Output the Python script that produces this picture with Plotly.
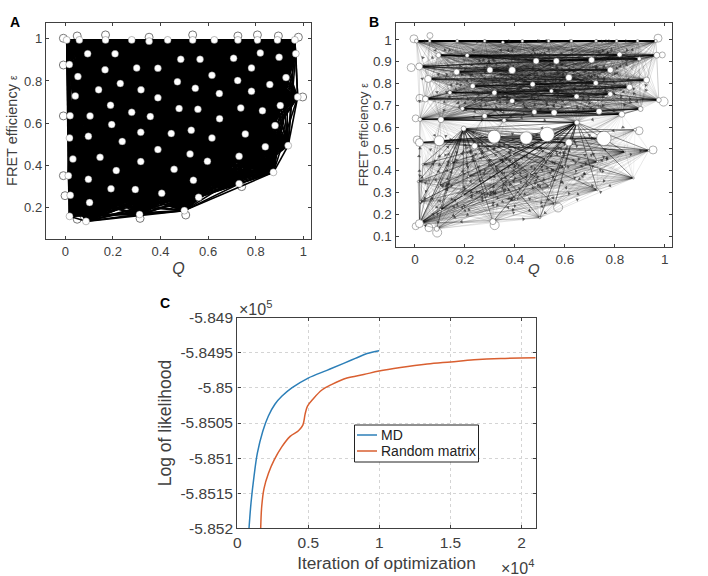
import math
from itertools import combinations
import plotly.graph_objects as go

# ---------- data ----------
node_q = [.006,.059,.169,.279,.352,.43,.535,.626,.725,.807,.891,.964,
          .094,.209,.485,.566,.707,.819,.898,.968,.017,.053,.167,.30,.389,.782,.616,.927,
          .471,.724,.231,.546,.318,.14,.782,.859,.647,.042,.389,.976,.19,.903,.478,.557,
          .737,.828,.279,.02,.104,.357,.648,.195,.881,.529,.317,.445,.756,.097,.018,.616,
          .239,.936,.84,.389,.524,.146,.73,.032,.317,.597,.457,.214,.874,.013,.097,.538,
          .73,.192,.294,.405,.021,.56,.102,.50,.312,.018,.087]
node_eps = [.995,.995,.995,.995,.989,.995,.995,.995,.995,.995,.995,.995,
            .93,.929,.903,.903,.908,.933,.913,.93,.878,.821,.853,.862,.861,.862,.827,.816,
            .796,.802,.788,.765,.758,.758,.751,.783,.74,.729,.72,.724,.685,.683,.669,.666,
            .672,.659,.651,.635,.634,.631,.621,.593,.588,.566,.556,.55,.548,.537,.529,.529,
            .513,.493,.487,.474,.453,.437,.442,.429,.417,.418,.38,.374,.366,.35,.333,.328,
            .312,.288,.284,.266,.257,.247,.222,.184,.166,.157,.133]
node_weight_b = [4,3,3,3,3,3,3,3,3,3,3,3,
                 5,4,6,6,6,5,4,6,7,7,6,6,7,6,6.5,6,
                 5,5,5,4,5,4,5,6,5,6,5,5,4,5,5,6,
                 6,6,5,4,6,4,5,5,3,14.5,13,12.5,14.5,10,8,7,
                 6,2,1.5,2,2,2,2,2,2,2,2,2,2,2,2,2,
                 2,2,2,2,2,2,2,2,6,8,5]

loop_q_a = [-.008,.05,.169,.352,.535,.725,.807,.895,.979,.997,-.008,-.008,-.008,-.001,.05,.314,.506,.741]
loop_eps_a = [1.003,1.014,1.019,1.008,1.019,1.014,1.019,1.014,1.008,.724,.876,.634,.35,.255,.143,.147,.163,.298]
loop_q_b = [-.004,.06,-.015,.02,.003,.009,.003,.056,.089,.319,.573,.953,.897,.995,.973,.99]
loop_eps_b = [1.005,1.02,.873,.732,.64,.541,.145,.138,.116,.15,.231,.495,.583,.717,1.008,.931]
loop_size_b = [8,6,8,8,7,8,7,8,9,9,9,8,8,9,8,6]

iterations_md = [824,965,1176,1412,1788,2188,2659,3129,3835,4988,6306,7482,8306,9129,9976]
loglik_md = [-585200,-585164,-585126,-585093,-585062,-585040,-585023,-585012,-585000,-584986,
             -584975,-584965,-584958,-584951,-584947]
iterations_rm = [1647,1718,1882,2188,2588,3129,3718,4306,4612,4776,4941,5365,5953,6659,7718,
                 8894,9976,11482,13365,15012,16659,18541,21000]
loglik_rm = [-585200,-585169,-585143,-585122,-585103,-585084,-585069,-585061,-585053,-585037,
             -585026,-585015,-585003,-584995,-584986,-584981,-584976,-584971,-584966,-584963,
             -584960,-584958,-584957]

y_ticks_c = [-584900,-584950,-585000,-585050,-585100,-585150,-585200]
y_labels_c = ["-5.849","-5.8495","-5.85","-5.8505","-5.851","-5.8515","-5.852"]
x_ticks_c = [0,5000,10000,15000,20000]
x_labels_c = ["0","0.5","1","1.5","2"]

# ---------- layout helpers ----------
W, H = 708, 576
FONT = "Liberation Sans"
GRAY = "#404040"
MD_COLOR = "#2c7fb8"
RM_COLOR = "#d95f30"
def dx(a, b): return [a / W, b / W]
def dy(top, bottom): return [1 - bottom / H, 1 - top / H]

fig = go.Figure()

def seg(pairs):
    xs, ys = [], []
    for i, j in pairs:
        xs += [node_q[i], node_q[j], None]
        ys += [node_eps[i], node_eps[j], None]
    return xs, ys

def lines(pairs, color, width, ax):
    xs, ys = seg(pairs)
    fig.add_trace(go.Scatter(x=xs, y=ys, mode="lines", line=dict(color=color, width=width),
                             hoverinfo="skip", showlegend=False, xaxis="x" + ax, yaxis="y" + ax))

n = len(node_q)
all_pairs = list(combinations(range(n), 2))

# ---------- panel A ----------
fig.add_trace(go.Scatter(x=loop_q_a, y=loop_eps_a, mode="markers",
                         marker=dict(size=8, color="white", opacity=1, line=dict(color="#777", width=1)),
                         hoverinfo="skip", showlegend=False, xaxis="x", yaxis="y"))
lines(all_pairs, "black", 1.6, "")
fig.add_trace(go.Scatter(x=node_q, y=node_eps, mode="markers",
                         marker=dict(size=7, color="white", opacity=1, line=dict(color="#555", width=0.4)),
                         hoverinfo="skip", showlegend=False, xaxis="x", yaxis="y"))

# ---------- panel B ----------
low = [i for i in range(n) if node_eps[i] < 0.5]
mid = [i for i in range(n) if node_eps[i] < 0.66]
up = [i for i in range(n) if node_eps[i] > 0.6]
hubs = [node_q.index(.648), node_q.index(.195)]
fan = node_q.index(.018, 60)

pairs_up = list(combinations(up, 2))
pairs_row = [(i, j) for i, j in all_pairs
             if abs(node_eps[i] - node_eps[j]) < 0.03 and node_eps[i] > 0.5]
pairs_low = [(i, j) for i in low for j in mid if i != j]
pairs_hub = [(i, j) for i in low for j in hubs]
pairs_fan = [(fan, j) for j in mid if j != fan]

fig.add_trace(go.Scatter(x=loop_q_b, y=loop_eps_b, mode="markers",
                         marker=dict(size=loop_size_b, color="white", opacity=1, line=dict(color="#999", width=0.8)),
                         hoverinfo="skip", showlegend=False, xaxis="x2", yaxis="y2"))
lines(pairs_up, "rgba(0,0,0,0.18)", 0.6, "2")
lines(pairs_low, "rgba(0,0,0,0.10)", 0.5, "2")
lines(pairs_fan, "rgba(0,0,0,0.30)", 0.6, "2")
lines(pairs_hub, "rgba(0,0,0,0.50)", 0.8, "2")
lines(pairs_row, "rgba(0,0,0,0.45)", 1.0, "2")

ax_b, ay_b, ang_b = [], [], []
for k, (i, j) in enumerate(pairs_up + pairs_hub + pairs_low):
    if k % 4 == 0:
        ax_b.append(node_q[i] * .35 + node_q[j] * .65)
        ay_b.append(node_eps[i] * .35 + node_eps[j] * .65)
        ang_b.append(math.degrees(math.atan2((node_q[j] - node_q[i]) * 250,
                                             (node_eps[j] - node_eps[i]) * 218)))
fig.add_trace(go.Scatter(x=ax_b, y=ay_b, mode="markers",
                         marker=dict(size=3.5, symbol="triangle-up", angle=ang_b, color="rgba(30,30,30,0.65)"),
                         hoverinfo="skip", showlegend=False, xaxis="x2", yaxis="y2"))
fig.add_trace(go.Scatter(x=node_q, y=node_eps, mode="markers",
                         marker=dict(size=node_weight_b, color="white", opacity=1, line=dict(color="#555", width=0.5)),
                         hoverinfo="skip", showlegend=False, xaxis="x2", yaxis="y2"))

# ---------- panel C ----------
fig.add_trace(go.Scatter(x=iterations_md, y=loglik_md, name="MD", mode="lines", line_shape="spline",
                         line=dict(color=MD_COLOR, width=1.5), showlegend=False, xaxis="x3", yaxis="y3"))
fig.add_trace(go.Scatter(x=iterations_rm, y=loglik_rm, name="Random matrix", mode="lines", line_shape="spline",
                         line=dict(color=RM_COLOR, width=1.5), showlegend=False, xaxis="x3", yaxis="y3"))

def axis(domain, rng, size, title, tsize, standoff, anchor, **kw):
    d = dict(domain=domain, range=rng, anchor=anchor, showline=True, mirror="ticks", linecolor=GRAY,
             linewidth=1.4, ticks="inside", ticklen=3, tickwidth=1, tickcolor=GRAY, showgrid=False,
             zeroline=False, tickfont=dict(family=FONT, size=size, color=GRAY),
             title=dict(text=title, font=dict(family=FONT, size=tsize, color=GRAY), standoff=standoff),
             automargin=False)
    d.update(kw)
    return d

grid_c = dict(showgrid=True, gridcolor="#d4d4d4", griddash="dot", gridwidth=1)
eps_title = "FRET efficiency <span style='font-size:10px'>ε</span>"
tickA = dict(tickvals=[0, .2, .4, .6, .8, 1], ticktext=["0", "0.2", "0.4", "0.6", "0.8", "1"])
tickAy = dict(tickvals=[.2, .4, .6, .8, 1], ticktext=["0.2", "0.4", "0.6", "0.8", "1"])
tickBy = dict(tickvals=[.1 * i for i in range(1, 11)],
              ticktext=["0.1", "0.2", "0.3", "0.4", "0.5", "0.6", "0.7", "0.8", "0.9", "1"])

def paper_text(text, x, y, size, color, anchor="center"):
    return dict(text=text, x=x / W, y=1 - y / H, xref="paper", yref="paper", showarrow=False,
                xanchor=anchor, yanchor="middle", font=dict(family=FONT, size=size, color=color))

def paper_shape(kind, x0, y0, x1, y1, color, width, fill=None):
    s = dict(type=kind, xref="paper", yref="paper", x0=x0 / W, x1=x1 / W, y0=1 - y0 / H, y1=1 - y1 / H,
             line=dict(color=color, width=width), layer="above")
    if fill:
        s["fillcolor"] = fill
    return s

fig.update_layout(
    width=W, height=H, margin=dict(l=0, r=0, t=0, b=0), autosize=False,
    paper_bgcolor="white", plot_bgcolor="white", showlegend=False,
    xaxis=axis(dx(46, 311), [-0.081, 1.032], 13, "<i>Q</i>", 16, 5, "y", **tickA),
    yaxis=axis(dy(22.5, 239), [0.049, 1.078], 13, eps_title, 14.5, 3, "x", **tickAy),
    xaxis2=axis(dx(395.7, 672.3), [-0.077, 1.03], 13.5, "", 15, 0, "y2", **tickA),
    yaxis2=axis(dy(22.7, 246.7), [0.051, 1.079], 13.5, eps_title, 13.5, 1, "x2", **tickBy),
    xaxis3=axis(dx(237.3, 535.7), [0, 21000], 15.5, "Iteration of optimization", 17.3, 6, "y3",
                tickvals=x_ticks_c, ticktext=x_labels_c, **grid_c),
    yaxis3=axis(dy(317.7, 528.3), [-585200, -584900], 15.5, "Log of likelihood", 17.5, 4, "x3",
                tickvals=y_ticks_c, ticktext=y_labels_c, **grid_c),
    annotations=[
        paper_text("<b>A</b>", 15, 22, 14, "black"),
        paper_text("<b>B</b>", 374, 22, 14, "black"),
        paper_text("<b>C</b>", 165, 303, 14, "black"),
        paper_text("<i>Q</i>", 534, 268, 15, GRAY),
        paper_text("×10<sup>5</sup>", 255, 308, 16, GRAY),
        paper_text("×10<sup>4</sup>", 517, 567, 16, GRAY),
        paper_text("MD", 379, 435, 14, "#222", "left"),
        paper_text("Random matrix", 379, 451, 14, "#222", "left"),
    ],
    shapes=[
        paper_shape("rect", 354.5, 425, 478.5, 462, "#222", 1, "white"),
        paper_shape("line", 357, 435, 377, 435, MD_COLOR, 1.5),
        paper_shape("line", 357, 451, 377, 451, RM_COLOR, 1.5),
    ],
)
fig.write_html("out.html", config={"displayModeBar": False},
               post_script="document.body.style.margin='0';")
